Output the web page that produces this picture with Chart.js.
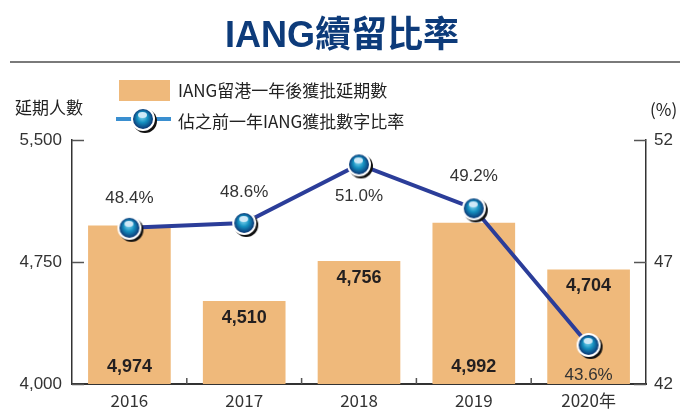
<!DOCTYPE html>
<html>
<head>
<meta charset="utf-8">
<script src="https://cdn.jsdelivr.net/npm/chart.js@4"></script>
<style>
  html, body { margin: 0; padding: 0; background: #fff; }
  #wrap { position: relative; width: 680px; height: 416px; }
</style>
</head>
<body>
<div id="wrap"><canvas id="chart" width="680" height="416"></canvas></div>
<script>
// chart data
const years = ['2016', '2017', '2018', '2019', '2020年'];
const extensions = [4974, 4510, 4756, 4992, 4704];
const ratio = [48.4, 48.6, 51.0, 49.2, 43.6];
const leftTicks = [4000, 4750, 5500];
const rightTicks = [42, 47, 52];

const FONT = '"Liberation Sans Narrow", "Liberation Sans", "Noto Sans CJK TC", sans-serif';
const CJK = '"Liberation Sans Narrow", "Noto Sans CJK TC", sans-serif';
const barColor = '#efb97b';
const lineColor = '#2b3d99';

// glossy marker used for the line points
function makeMarker(r) {
    const size = (r + 4) * 2;
    const c = document.createElement('canvas');
    c.width = size; c.height = size;
    const g = c.getContext('2d');
    const m = size / 2;
    g.fillStyle = '#111';
    g.beginPath(); g.arc(m + 2, m + 2, r, 0, Math.PI * 2); g.fill();
    g.fillStyle = '#fff';
    g.beginPath(); g.arc(m, m, r, 0, Math.PI * 2); g.fill();
    const grad = g.createRadialGradient(m - 1, m - 3, 1, m, m, r - 1.5);
    grad.addColorStop(0, '#7fd4ee');
    grad.addColorStop(0.45, '#1590c0');
    grad.addColorStop(1, '#0a2f6e');
    g.fillStyle = grad;
    g.beginPath(); g.arc(m, m, r - 2, 0, Math.PI * 2); g.fill();
    g.fillStyle = '#cfe9f7';
    g.beginPath(); g.ellipse(m - 0.5, m - 4, 4.5, 3, 0, 0, Math.PI * 2); g.fill();
    return c;
}
const marker = makeMarker(12);

const decorPlugin = {
    id: 'decor',
    afterDraw(chart) {
        const ctx = chart.ctx;
        const area = chart.chartArea;
        const y = chart.scales.y, y1 = chart.scales.y1, x = chart.scales.x;
        ctx.save();

        // title and rule
        ctx.fillStyle = '#0d3b7a';
        ctx.font = 'bold 36px "Liberation Sans", "Noto Sans CJK TC", sans-serif';
        ctx.textAlign = 'center';
        ctx.textBaseline = 'middle';
        ctx.fillText('IANG續留比率', 342, 37);
        ctx.strokeStyle = '#7a7a7a';
        ctx.lineWidth = 2;
        ctx.beginPath(); ctx.moveTo(10, 62); ctx.lineTo(680, 62); ctx.stroke();

        // legend
        ctx.fillStyle = barColor;
        ctx.fillRect(119, 80, 51, 21);
        ctx.strokeStyle = '#3a8fd0';
        ctx.lineWidth = 4;
        ctx.beginPath(); ctx.moveTo(116, 119); ctx.lineTo(171, 119); ctx.stroke();
        ctx.drawImage(marker, 143 - marker.width / 2, 119 - marker.height / 2);
        ctx.fillStyle = '#222';
        ctx.font = '17px ' + CJK;
        ctx.textAlign = 'left';
        ctx.fillText('IANG留港一年後獲批延期數', 178, 91);
        ctx.fillText('佔之前一年IANG獲批數字比率', 178, 122);

        // axis titles
        ctx.font = '17px ' + CJK;
        ctx.fillText('延期人數', 15, 108);
        ctx.fillText('(%)', 650, 110);

        // inward tick marks
        ctx.strokeStyle = '#555';
        ctx.lineWidth = 1.5;
        leftTicks.forEach(v => {
            const py = Math.round(y.getPixelForValue(v)) + 0.5;
            ctx.beginPath(); ctx.moveTo(area.left, py); ctx.lineTo(area.left + 12, py); ctx.stroke();
        });
        rightTicks.forEach(v => {
            const py = Math.round(y1.getPixelForValue(v)) + 0.5;
            ctx.beginPath(); ctx.moveTo(area.right, py); ctx.lineTo(area.right - 12, py); ctx.stroke();
        });
        for (let i = 1; i < years.length; i++) {
            const px = (x.getPixelForValue(i - 1) + x.getPixelForValue(i)) / 2;
            ctx.beginPath(); ctx.moveTo(px, area.bottom); ctx.lineTo(px, area.bottom - 6); ctx.stroke();
        }

        // bar value labels
        const barMeta = chart.getDatasetMeta(0);
        const barPos = ['bottom', 'top', 'top', 'bottom', 'top'];
        ctx.fillStyle = '#231f20';
        ctx.font = 'bold 18px "Liberation Sans", sans-serif';
        ctx.textAlign = 'center';
        barMeta.data.forEach((bar, i) => {
            const ty = barPos[i] === 'top' ? bar.y + 17 : area.bottom - 17;
            ctx.fillText(extensions[i].toLocaleString('en-US'), bar.x, ty);
        });

        // ratio labels
        const lineMeta = chart.getDatasetMeta(1);
        const off = [-30, -31, 32, -32, 30];
        ctx.fillStyle = '#333';
        ctx.font = '17px ' + FONT;
        lineMeta.data.forEach((pt, i) => {
            ctx.fillText(ratio[i].toFixed(1) + '%', pt.x, pt.y + off[i]);
        });
        ctx.restore();
    }
};

new Chart(document.getElementById('chart'), {
    data: {
        labels: years,
        datasets: [{
            type: 'bar',
            data: extensions,
            backgroundColor: barColor,
            barPercentage: 0.72,
            categoryPercentage: 1,
            yAxisID: 'y',
            order: 2
        }, {
            type: 'line',
            data: ratio,
            borderColor: lineColor,
            borderWidth: 4,
            pointStyle: marker,
            pointRadius: 13,
            yAxisID: 'y1',
            order: 1
        }]
    },
    options: {
        responsive: false,
        animation: false,
        layout: { padding: { top: 140, left: 0, right: 0, bottom: 0 } },
        plugins: { legend: { display: false }, tooltip: { enabled: false } },
        scales: {
            x: {
                grid: { display: false, drawTicks: false },
                border: { color: '#333', width: 2 },
                ticks: { color: '#333', font: { size: 17, family: CJK }, padding: 6 },
                afterFit(s) { s.height = 32; }
            },
            y: {
                position: 'left',
                min: 4000, max: 5500,
                afterBuildTicks(s) { s.ticks = leftTicks.map(v => ({ value: v })); },
                grid: { display: false, drawTicks: false },
                border: { color: '#333', width: 1.5 },
                ticks: {
                    color: '#333', font: { size: 17, family: FONT }, padding: 10,
                    callback: v => v.toLocaleString('en-US')
                },
                afterFit(s) { s.width = 72; }
            },
            y1: {
                position: 'right',
                min: 42, max: 52,
                afterBuildTicks(s) { s.ticks = rightTicks.map(v => ({ value: v })); },
                grid: { display: false, drawTicks: false },
                border: { color: '#333', width: 1.5 },
                ticks: { color: '#333', font: { size: 17, family: FONT }, padding: 8 },
                afterFit(s) { s.width = 34; }
            }
        }
    },
    plugins: [decorPlugin]
});
</script>
</body>
</html>
